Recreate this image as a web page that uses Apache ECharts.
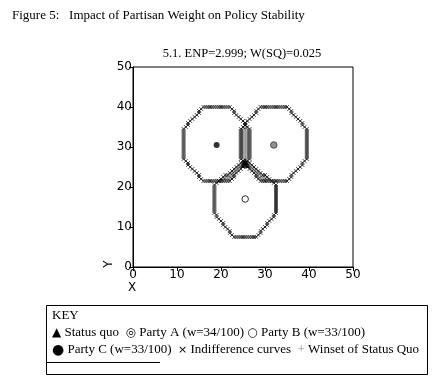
<!DOCTYPE html>
<html><head><meta charset="utf-8">
<script src="https://cdn.jsdelivr.net/npm/echarts@6/dist/echarts.min.js"></script>
<style>html,body{margin:0;padding:0;background:#fff}#c{width:436px;height:387px}</style>
</head><body><div id="c"></div>
<script>
const titleText = 'Figure 5:   Impact of Partisan Weight on Policy Stability';
const subtitleText = '5.1. ENP=2.999; W(SQ)=0.025';
const xTickValues = [0, 10, 20, 30, 40, 50];
const yTickValues = [0, 10, 20, 30, 40, 50];

const statusQuo = [[25.5, 26]];
const partyA = [[32, 30.5]];
const partyB = [[25.5, 17]];
const partyC = [[19, 30.5]];

const curveC = [
 [16,40],[16.5,40],[17,40],[17.5,40],[18,40],[18.5,40],[19,40],[19.5,40],[20,40],[20.5,40],[21,40],[21.5,40],[22,40],
 [15.5,39.5],[15,39],[15,38.5],[14.5,38],[14,37.5],[13.5,37],[13,36.5],[12.5,36],[12.5,35.5],[12,35],
 [11.5,34.5],[11.5,34],[11.5,33.5],[11.5,33],[11.5,32.5],[11.5,32],[11.5,31.5],[11.5,31],[11.5,30.5],[11.5,30],[11.5,29.5],[11.5,29],[11.5,28.5],[11.5,28],[11.5,27.5],[11.5,27],
 [12,26.5],[12.5,26],[12.5,25.5],[13,25],[13.5,24.5],[14,24],[14.5,23.5],[15,23],[15,22.5],[15.5,22],
 [16,21.5],[16.5,21.5],[17,21.5],[17.5,21.5],[18,21.5],[18.5,21.5],[19,21.5],[19.5,21.5],[20,21.5],[20.5,21.5],[21,21.5],[21.5,21.5],[22,21.5],
 [22.5,22],[23,22.5],[23,23],[23.5,23.5],[24,24],[24.5,24.5],[25,25],[25.5,25.5],[25.5,26],[26,26.5],
 [26.5,27],[26.5,27.5],[26.5,28],[26.5,28.5],[26.5,29],[26.5,29.5],[26.5,30],[26.5,30.5],[26.5,31],[26.5,31.5],[26.5,32],[26.5,32.5],[26.5,33],[26.5,33.5],[26.5,34],[26.5,34.5],
 [26,35],[25.5,35.5],[25.5,36],[25,36.5],[24.5,37],[24,37.5],[23.5,38],[23,38.5],[23,39],[22.5,39.5]
];
const curveA = [
 [29,40],[29.5,40],[30,40],[30.5,40],[31,40],[31.5,40],[32,40],[32.5,40],[33,40],[33.5,40],[34,40],[34.5,40],[35,40],
 [35.5,39.5],[36,39],[36,38.5],[36.5,38],[37,37.5],[37.5,37],[38,36.5],[38.5,36],[38.5,35.5],[39,35],
 [39.5,34.5],[39.5,34],[39.5,33.5],[39.5,33],[39.5,32.5],[39.5,32],[39.5,31.5],[39.5,31],[39.5,30.5],[39.5,30],[39.5,29.5],[39.5,29],[39.5,28.5],[39.5,28],[39.5,27.5],[39.5,27],
 [39,26.5],[38.5,26],[38.5,25.5],[38,25],[37.5,24.5],[37,24],[36.5,23.5],[36,23],[36,22.5],[35.5,22],
 [29,21.5],[29.5,21.5],[30,21.5],[30.5,21.5],[31,21.5],[31.5,21.5],[32,21.5],[32.5,21.5],[33,21.5],[33.5,21.5],[34,21.5],[34.5,21.5],[35,21.5],
 [28.5,22],[28,22.5],[28,23],[27.5,23.5],[27,24],[26.5,24.5],[26,25],[25.5,25.5],[25.5,26],[25,26.5],
 [24.5,27],[24.5,27.5],[24.5,28],[24.5,28.5],[24.5,29],[24.5,29.5],[24.5,30],[24.5,30.5],[24.5,31],[24.5,31.5],[24.5,32],[24.5,32.5],[24.5,33],[24.5,33.5],[24.5,34],[24.5,34.5],
 [25,35],[25.5,35.5],[25.5,36],[26,36.5],[26.5,37],[27,37.5],[27.5,38],[28,38.5],[28,39],[28.5,39.5]
];
const curveB = [
 [23,7.5],[23.5,7.5],[24,7.5],[24.5,7.5],[25,7.5],[25.5,7.5],[26,7.5],[26.5,7.5],[27,7.5],[27.5,7.5],[28,7.5],
 [22.5,8],[22,8.5],[22,9],[21.5,9.5],[21,10],[20.5,10.5],[20.5,11],[20,11.5],[19.5,12],[19,12.5],[19,13],
 [18.5,13.5],[18.5,14],[18.5,14.5],[18.5,15],[18.5,15.5],[18.5,16],[18.5,16.5],[18.5,17],[18.5,17.5],[18.5,18],[18.5,18.5],[18.5,19],[18.5,19.5],[18.5,20],[18.5,20.5],
 [19,21],[19.5,21.5],[20,22],[20.5,22.5],[21,23],[21.5,23],[22,23.5],[22.5,24],[23,24.5],[23.5,25],[24,25.5],
 [24.5,26],[25,26],[25.5,26],[26,26],[26.5,26],
 [27,25.5],[27.5,25],[28,24.5],[28.5,24],[29,23.5],[29.5,23],[30,23],[30.5,22.5],[31,22],[31.5,21.5],[32,21],
 [32.5,20.5],[32.5,20],[32.5,19.5],[32.5,19],[32.5,18.5],[32.5,18],[32.5,17.5],[32.5,17],[32.5,16.5],[32.5,16],[32.5,15.5],[32.5,15],[32.5,14.5],[32.5,14],[32.5,13.5],
 [32,13],[32,12.5],[31.5,12],[31,11.5],[30.5,11],[30.5,10.5],[30,10],[29.5,9.5],[29,9],[29,8.5],[28.5,8]
];
const winset = [
 [25.5,26.5],
 [25,27],[25.5,27],[26,27],[25,27.5],[25.5,27.5],[26,27.5],[25,28],[25.5,28],[26,28],[25,28.5],[25.5,28.5],[26,28.5],
 [25,29],[25.5,29],[26,29],[25,29.5],[25.5,29.5],[26,29.5],[25,30],[25.5,30],[26,30],[25,30.5],[25.5,30.5],[26,30.5],
 [25,31],[25.5,31],[26,31],[25,31.5],[25.5,31.5],[26,31.5],[25,32],[25.5,32],[26,32],[25,32.5],[25.5,32.5],[26,32.5],
 [25,33],[25.5,33],[26,33],[25,33.5],[25.5,33.5],[26,33.5],[25,34],[25.5,34],[26,34],[25,34.5],[25.5,34.5],[26,34.5],
 [25.5,35],
 [20.5,22],[21,22],[21,22.5],[21.5,22],[21.5,22.5],[22,22],[22,22.5],[22,23],[22.5,22.5],[22.5,23],[22.5,23.5],
 [23,23.5],[23,24],[23.5,24],[23.5,24.5],[24,24.5],[24,25],[24.5,25],[24.5,25.5],[25,25.5],
 [30.5,22],[30,22],[30,22.5],[29.5,22],[29.5,22.5],[29,22],[29,22.5],[29,23],[28.5,22.5],[28.5,23],[28.5,23.5],
 [28,23.5],[28,24],[27.5,24],[27.5,24.5],[27,24.5],[27,25],[26.5,25],[26.5,25.5],[26,25.5]
];

const keyLines = [
 'KEY',
 '{s|\u25B2} Status quo  {m|\u25CE} Party A (w=34/100) {m|\u25CB} Party B (w=33/100)',
 '{b|\u25CF} Party C (w=33/100)  {x|\u00D7} Indifference curves  {g|+} Winset of Status Quo'
];

const crossPath = 'path://M0,0L10,10M10,0L0,10';
const plusPath = 'path://M5,0L5,10M0,5L10,5';
const serif = "'Liberation Serif', 'DejaVu Serif', serif";
const sans = "'DejaVu Sans', sans-serif";

const chart = echarts.init(document.getElementById('c'), null, {renderer: 'canvas'});
const curveStyle = {color: 'rgba(0,0,0,0)', borderColor: '#000', borderWidth: 1};
const keyRich = {
  s: {fill: '#000', font: "12px " + sans},
  m: {fill: '#000', font: "12px " + sans},
  x: {fill: '#000', font: "11px " + sans},
  b: {fill: '#000', font: "14px " + sans},
  g: {fill: '#888', font: "13px " + serif}
};
chart.setOption({
  animation: false,
  backgroundColor: '#fff',
  title: [
    {text: titleText, left: 7, top: 4, textStyle: {fontFamily: serif, fontSize: 13, fontWeight: 'normal', color: '#000'}},
    {text: subtitleText, left: 237, top: 42, textAlign: 'center', textStyle: {fontFamily: serif, fontSize: 12.5, fontWeight: 'normal', color: '#000'}}
  ],
  grid: {left: 133, right: 83, top: 67, bottom: 120, show: true, borderColor: '#000', borderWidth: 1, backgroundColor: '#fff'},
  xAxis: {
    type: 'value', min: 0, max: 50, interval: 10,
    splitLine: {show: false},
    axisLine: {lineStyle: {color: '#000', width: 1}},
    axisTick: {show: true, length: 4, lineStyle: {color: '#000'}},
    axisLabel: {margin: 2, color: '#000', fontFamily: sans, fontSize: 12,
      formatter: v => xTickValues.includes(v) ? String(v) : ''}
  },
  yAxis: {
    type: 'value', min: 0, max: 50, interval: 10,
    splitLine: {show: false},
    axisLine: {lineStyle: {color: '#000', width: 1}},
    axisTick: {show: true, length: 4, lineStyle: {color: '#000'}},
    axisLabel: {margin: 1, color: '#000', fontFamily: sans, fontSize: 12,
      formatter: v => yTickValues.includes(v) ? String(v) : ''}
  },
  series: [
    {type: 'scatter', name: 'Winset', data: winset, symbol: plusPath, symbolSize: 3.5,
      itemStyle: {color: 'rgba(0,0,0,0)', borderColor: '#888', borderWidth: 1}, silent: true},
    {type: 'scatter', name: 'C curve', data: curveC, symbol: crossPath, symbolSize: 3.6, itemStyle: curveStyle, silent: true},
    {type: 'scatter', name: 'A curve', data: curveA, symbol: crossPath, symbolSize: 3.6, itemStyle: curveStyle, silent: true},
    {type: 'scatter', name: 'B curve', data: curveB, symbol: crossPath, symbolSize: 3.6, itemStyle: curveStyle, silent: true},
    {type: 'scatter', name: 'Party C', data: partyC, symbol: 'circle', symbolSize: 6, itemStyle: {color: '#000'}},
    {type: 'scatter', name: 'Party A', data: partyA, symbol: 'circle', symbolSize: 6.5, itemStyle: {color: '#777', borderColor: '#333', borderWidth: 1}},
    {type: 'scatter', name: 'Party B', data: partyB, symbol: 'circle', symbolSize: 6.5, itemStyle: {color: '#fff', borderColor: '#000', borderWidth: 1}},
    {type: 'scatter', name: 'Status quo', data: statusQuo, symbol: 'triangle', symbolSize: 10, itemStyle: {color: '#000'}}
  ],
  graphic: [
    {type: 'text', x: 109, y: 264, rotation: Math.PI / 2, style: {text: 'Y', fill: '#000', font: "12px " + sans, align: 'center', verticalAlign: 'middle'}},
    {type: 'text', x: 132, y: 288, style: {text: 'X', fill: '#000', font: "12px " + sans, align: 'center', verticalAlign: 'middle'}},
    {type: 'rect', shape: {x: 46.5, y: 305.5, width: 381, height: 69}, style: {fill: '#fff', stroke: '#000', lineWidth: 1}},
    {type: 'text', x: 52, y: 316, style: {text: keyLines[0], fill: '#000', font: "13px " + serif, verticalAlign: 'middle'}},
    {type: 'text', x: 52, y: 333, style: {text: keyLines[1], fill: '#000', font: "13px " + serif, verticalAlign: 'middle', rich: keyRich}},
    {type: 'text', x: 52, y: 350, style: {text: keyLines[2], fill: '#000', font: "13px " + serif, verticalAlign: 'middle', rich: keyRich}},
    {type: 'line', shape: {x1: 47, y1: 362.5, x2: 160, y2: 362.5}, style: {stroke: '#000', lineWidth: 1}}
  ]
});
</script></body></html>
